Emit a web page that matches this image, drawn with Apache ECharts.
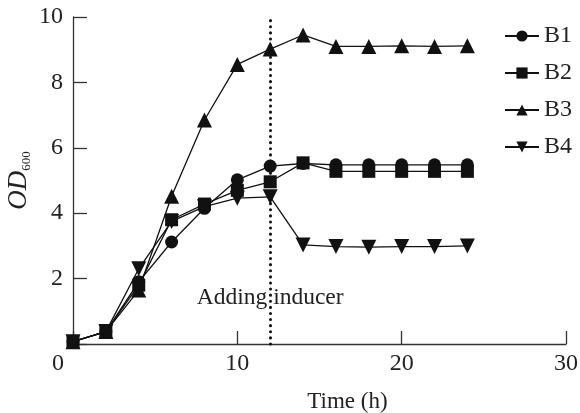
<!DOCTYPE html>
<html>
<head>
<meta charset="utf-8">
<script src="https://cdn.jsdelivr.net/npm/echarts@6/dist/echarts.min.js"></script>
<style>
  html, body { margin: 0; padding: 0; background: #fff; }
  #main { width: 580px; height: 413px; }
</style>
</head>
<body>
<div id="main"></div>
<script>
// sampling times (h)
var hours = [0, 2, 4, 6, 8, 10, 12, 14, 16, 18, 20, 22, 24];

// OD600 per strain
var b1 = [0.07, 0.38, 1.9, 3.12, 4.15, 5.02, 5.44, 5.52, 5.48, 5.48, 5.48, 5.48, 5.48];
var b2 = [0.07, 0.38, 1.8, 3.8, 4.28, 4.7, 4.96, 5.54, 5.28, 5.28, 5.28, 5.28, 5.28];
var b3 = [0.07, 0.38, 1.65, 4.52, 6.85, 8.55, 9.02, 9.45, 9.1, 9.1, 9.12, 9.1, 9.12];
var b4 = [0.07, 0.38, 2.3, 3.75, 4.2, 4.46, 4.5, 3.03, 2.98, 2.96, 2.98, 2.98, 3.0];

var inducerTime = 12;
var inducerLabel = 'Adding inducer';

var xTicks = [0, 10, 20, 30];
var yTicks = [0, 2, 4, 6, 8, 10];

var font = 'Liberation Serif';
var ink = '#111';

function pairs(ys) {
    return hours.map(function (h, i) { return [h, ys[i]]; });
}

function makeSeries(name, ys, symbol, rotate) {
    return {
        name: name,
        type: 'line',
        data: pairs(ys),
        symbol: symbol,
        symbolSize: symbol === 'triangle' ? 15 : 13,
        symbolRotate: rotate || 0,
        lineStyle: { color: ink, width: 1.3 },
        itemStyle: { color: ink },
        z: 3
    };
}

var chartDom = document.getElementById('main');
var myChart = echarts.init(chartDom);
var option;

var series = [
    makeSeries('B1', b1, 'circle'),
    makeSeries('B2', b2, 'rect'),
    makeSeries('B3', b3, 'triangle'),
    makeSeries('B4', b4, 'triangle', 180)
];

// inducer marker line + label
series[0].markLine = {
    silent: true,
    symbol: ['none', 'none'],
    label: { show: false },
    lineStyle: { color: ink, width: 3, type: [0.1, 6], cap: 'round' },
    data: [[{ coord: [inducerTime, yTicks[0]] }, { coord: [inducerTime, yTicks[yTicks.length - 1]] }]]
};
series[0].markPoint = {
    silent: true,
    symbol: 'circle',
    symbolSize: 0,
    label: {
        show: true,
        position: 'inside',
        formatter: inducerLabel,
        fontFamily: font,
        fontSize: 23.5,
        color: '#222'
    },
    data: [{ coord: [inducerTime, 1.4] }]
};

option = {
    animation: false,
    backgroundColor: '#fff',
    grid: { left: 73, right: 14, top: 17, bottom: 69, outerBoundsMode: 'none' },
    legend: {
        orient: 'vertical',
        left: 499,
        top: 19,
        itemWidth: 34,
        itemHeight: 14,
        itemGap: 13,
        itemTextGap: 6,
        textStyle: { fontFamily: font, fontSize: 24, color: '#222' },
        data: ['B1', 'B2', 'B3', 'B4']
    },
    xAxis: {
        type: 'value',
        min: xTicks[0],
        max: xTicks[xTicks.length - 1],
        interval: 10,
        name: 'Time (h)',
        nameLocation: 'middle',
        nameGap: 46,
        nameTextStyle: { fontFamily: font, fontSize: 23, color: '#222', padding: [0, 0, 0, 56] },
        axisLine: { lineStyle: { color: '#333', width: 1.3 } },
        axisTick: { inside: true, length: 13, lineStyle: { color: '#333', width: 1.3 } },
        axisLabel: {
            margin: 8,
            fontFamily: font,
            fontSize: 24,
            color: '#222',
            formatter: function (v) { return v === 0 ? '{o|0}' : String(v); },
            rich: { o: { fontFamily: font, fontSize: 24, color: '#222', padding: [0, 30, 0, 0] } }
        },
        splitLine: { show: false }
    },
    yAxis: {
        type: 'value',
        min: yTicks[0],
        max: yTicks[yTicks.length - 1],
        interval: 2,
        name: '{i|OD}{s|600}',
        nameLocation: 'middle',
        nameGap: 40,
        nameMoveOverlap: false,
        nameTextStyle: {
            rich: {
                i: { fontFamily: font, fontStyle: 'italic', fontSize: 27, color: '#222', lineHeight: 28 },
                s: { fontFamily: font, fontSize: 13, color: '#222', verticalAlign: 'bottom', lineHeight: 28 }
            }
        },
        axisLine: { show: true, lineStyle: { color: '#333', width: 1.3 } },
        axisTick: { show: true, inside: true, length: 14, lineStyle: { color: '#333', width: 1.3 } },
        axisLabel: {
            margin: 10,
            fontFamily: font,
            fontSize: 24,
            color: '#222',
            formatter: function (v) { return v === 0 ? '' : String(v); }
        },
        splitLine: { show: false }
    },
    series: series
};

option && myChart.setOption(option);
</script>
</body>
</html>
